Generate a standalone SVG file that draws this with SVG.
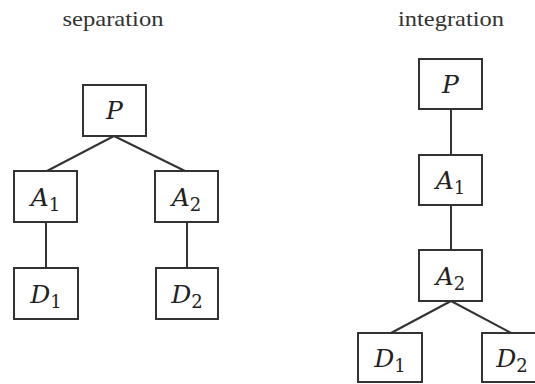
<svg xmlns="http://www.w3.org/2000/svg" width="535" height="384" viewBox="0 0 535 384">
<style>
.box{fill:#fff;stroke:#333;stroke-width:2}
.edge{stroke:#333;stroke-width:2;fill:none}
.title{font-family:"Liberation Serif",serif;font-size:21px;fill:#333;text-anchor:middle}
.lbl{font-family:"DejaVu Serif","Liberation Serif",serif;font-style:italic;font-size:25px;fill:#222;text-anchor:middle}
.sub{font-family:"DejaVu Serif","Liberation Serif",serif;font-style:normal;font-size:18px}
</style>
<rect width="535" height="384" fill="#fff"/>
<text class="title" x="113" y="26" textLength="101" lengthAdjust="spacingAndGlyphs">separation</text>
<text class="title" x="451" y="26" textLength="106" lengthAdjust="spacingAndGlyphs">integration</text>
<g id="connectors">
<line class="edge" x1="114" y1="136" x2="47" y2="171"/>
<line class="edge" x1="114" y1="136" x2="185" y2="171"/>
<line class="edge" x1="46" y1="222" x2="46" y2="268"/>
<line class="edge" x1="187" y1="222" x2="187" y2="268"/>
<line class="edge" x1="451" y1="109" x2="451" y2="155"/>
<line class="edge" x1="451" y1="205" x2="451" y2="250"/>
<line class="edge" x1="451" y1="301" x2="391" y2="333"/>
<line class="edge" x1="451" y1="301" x2="511" y2="333"/>
</g>
<g id="sep-P"><rect class="box" x="83" y="85" width="63" height="51"/><text class="lbl" x="114.5" y="119">P</text></g>
<g id="sep-A1"><rect class="box" x="14" y="171" width="63" height="51"/><text class="lbl" x="45.5" y="206">A<tspan class="sub" dy="5">1</tspan></text></g>
<g id="sep-A2"><rect class="box" x="155" y="171" width="63" height="51"/><text class="lbl" x="186.5" y="206">A<tspan class="sub" dy="5">2</tspan></text></g>
<g id="sep-D1"><rect class="box" x="14" y="268" width="64" height="51"/><text class="lbl" x="46" y="303">D<tspan class="sub" dy="5">1</tspan></text></g>
<g id="sep-D2"><rect class="box" x="156" y="268" width="62" height="51"/><text class="lbl" x="187" y="303">D<tspan class="sub" dy="5">2</tspan></text></g>
<g id="int-P"><rect class="box" x="419" y="59" width="63" height="50"/><text class="lbl" x="450.5" y="93">P</text></g>
<g id="int-A1"><rect class="box" x="419" y="155" width="63" height="50"/><text class="lbl" x="450.5" y="189">A<tspan class="sub" dy="5">1</tspan></text></g>
<g id="int-A2"><rect class="box" x="419" y="250" width="63" height="51"/><text class="lbl" x="450.5" y="285">A<tspan class="sub" dy="5">2</tspan></text></g>
<g id="int-D1"><rect class="box" x="358" y="333" width="64" height="49"/><text class="lbl" x="390" y="367">D<tspan class="sub" dy="5">1</tspan></text></g>
<g id="int-D2"><rect class="box" x="482" y="333" width="64" height="49"/><text class="lbl" x="512" y="367">D<tspan class="sub" dy="5">2</tspan></text></g>
</svg>
